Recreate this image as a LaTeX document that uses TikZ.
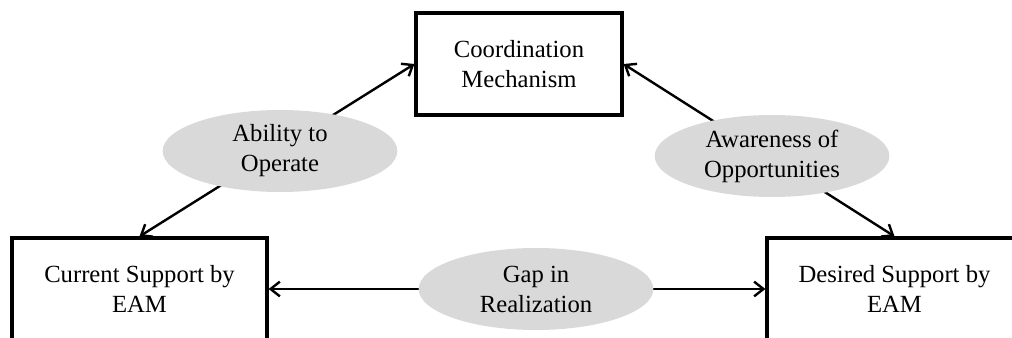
\documentclass[tikz,border=0pt]{standalone}
\usepackage{fontspec}
\setmainfont{Liberation Serif}
\usetikzlibrary{shapes.geometric,arrows.meta}
\pgfdeclarelayer{bg}
\pgfsetlayers{bg,main}

\begin{document}
\begin{tikzpicture}[x=0.75pt,y=-0.75pt,
        box/.style={draw,line width=2.4pt,minimum height=76.5pt,align=center,inner sep=0pt},
        oval/.style={ellipse,fill=black!15,minimum width=176pt,minimum height=61.5pt,align=center,inner sep=0pt},
        link/.style={line width=1.8pt,{Straight Barb[length=7pt,width=11pt]}-{Straight Barb[length=7pt,width=11pt]}},
        font=\fontsize{18.5}{22.5}\selectfont]
        \clip (0,0) rectangle (1012,338);
        \node (v0) [box,minimum width=154.5pt] at (519,64) {Coordination\\Mechanism};
        \node (v1) [box,minimum width=191.25pt] at (139.5,289) {Current Support by\\EAM};
        \node (v2) [box,minimum width=191.25pt] at (894.5,289) {Desired Support by\\EAM};
        \node (v3) [oval] at (280,151) {Ability to\\Operate};
        \node (v4) [oval] at (772,156) {Awareness of\\Opportunities};
        \node (v5) [oval] at (536,289) {Gap in\\Realization};
        \begin{pgfonlayer}{bg}
                \draw (v1.north) edge [link] (v0.west);
                \draw (v0.east) edge [link] (v2.north);
                \draw (v1.east) edge [link] (v2.west);
        \end{pgfonlayer}
\end{tikzpicture}
\end{document}
